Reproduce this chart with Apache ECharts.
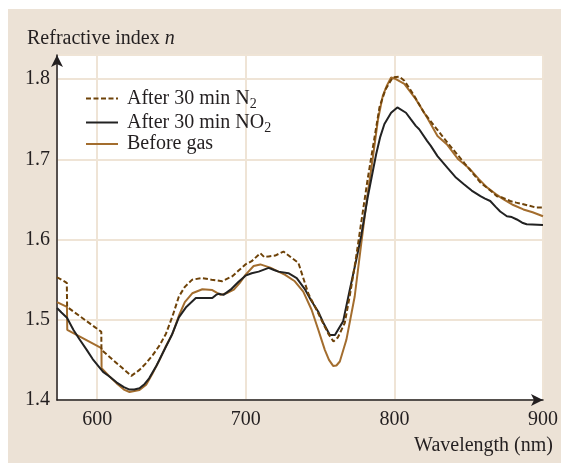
<!DOCTYPE html>
<html>
<head>
<meta charset="utf-8">
<script src="https://cdn.jsdelivr.net/npm/echarts@6/dist/echarts.min.js"></script>
<style>
html,body{margin:0;padding:0;background:#fff;}
#c{width:561px;height:463px;}
</style>
</head>
<body>
<div id="c"></div>
<script>
// Wavelength (nm) and refractive index values for each curve
const n2Wl = [573, 579.6, 579.8, 602.8, 602.9, 623, 628.5, 633, 637.4, 642, 646.4, 651, 655, 659, 664, 670.8, 677, 684, 690.8, 695, 699.8, 704, 709.8, 712.5, 715.4, 719.8, 725.4, 731, 735.4, 742, 748.8, 755.4, 759, 762, 766.6, 770, 774, 778, 782, 786, 790, 794, 798.9, 803.3, 806.7, 813.4, 820, 826.7, 835.6, 846.8, 857.9, 864, 869, 873, 877.9, 882, 886.8, 891, 895, 900];
const n2N  = [1.553, 1.546, 1.516, 1.485, 1.4625, 1.430, 1.4375, 1.446, 1.456, 1.468, 1.483, 1.506, 1.529, 1.541, 1.550, 1.552, 1.550, 1.548, 1.554, 1.561, 1.569, 1.573, 1.583, 1.578, 1.579, 1.580, 1.585, 1.577, 1.571, 1.533, 1.508, 1.483, 1.473, 1.478, 1.496, 1.530, 1.575, 1.625, 1.675, 1.720, 1.765, 1.787, 1.802, 1.803, 1.798, 1.779, 1.758, 1.742, 1.721, 1.696, 1.671, 1.662, 1.654, 1.652, 1.648, 1.646, 1.644, 1.642, 1.640, 1.640];

const no2Wl = [573, 576, 579.7, 584, 588, 593, 597, 601.8, 604, 608.5, 613, 618, 621.8, 625, 628.5, 632, 635, 640, 644, 650, 655, 660, 666.4, 672, 677.5, 680, 682, 685, 689.8, 695, 699.8, 704, 708.7, 715.4, 719, 722, 728.7, 734.3, 740, 744, 748.8, 752, 755.4, 756.6, 760, 765.5, 770, 774.4, 777.7, 782, 787.7, 790.5, 793.3, 797.8, 802, 807.8, 811, 814.4, 816.7, 822, 824.4, 829, 835.6, 841, 846.8, 852, 857.9, 861, 864.5, 868, 871.2, 875.7, 879, 882.4, 886, 889, 900];
const no2N  = [1.5146, 1.509, 1.5025, 1.4875, 1.476, 1.4625, 1.451, 1.440, 1.435, 1.429, 1.422, 1.416, 1.413, 1.413, 1.4146, 1.420, 1.427, 1.443, 1.458, 1.480, 1.503, 1.516, 1.527, 1.527, 1.527, 1.531, 1.5325, 1.531, 1.5375, 1.547, 1.555, 1.558, 1.560, 1.5646, 1.562, 1.560, 1.558, 1.552, 1.5375, 1.524, 1.510, 1.497, 1.485, 1.481, 1.481, 1.498, 1.5375, 1.575, 1.605, 1.652, 1.706, 1.728, 1.744, 1.758, 1.7646, 1.758, 1.750, 1.7417, 1.7375, 1.723, 1.717, 1.704, 1.6896, 1.678, 1.669, 1.661, 1.654, 1.651, 1.648, 1.641, 1.635, 1.629, 1.628, 1.625, 1.621, 1.619, 1.618];

const baseWl = [573, 579.7, 579.9, 602.9, 603.0, 608, 613, 618, 621.8, 628.5, 633, 637, 642, 646, 650.8, 655, 659, 664, 670.8, 677.5, 683, 687, 692, 696, 699.8, 705.3, 709.8, 716.5, 721, 726.5, 733, 738.7, 744.3, 748.8, 751, 753.2, 756, 758.8, 761, 763.3, 767.7, 773.3, 777.7, 781.5, 785.5, 789, 792.2, 795, 797.8, 801, 806.7, 814.4, 822, 829, 835.6, 843, 851, 857, 862.3, 868, 873.5, 880, 886.8, 893, 900];
const baseN  = [1.522, 1.516, 1.4875, 1.4646, 1.4396, 1.430, 1.421, 1.413, 1.410, 1.4125, 1.419, 1.432, 1.450, 1.466, 1.483, 1.505, 1.522, 1.533, 1.538, 1.537, 1.531, 1.533, 1.5375, 1.546, 1.556, 1.567, 1.569, 1.565, 1.561, 1.556, 1.548, 1.535, 1.5125, 1.4875, 1.475, 1.4625, 1.450, 1.4425, 1.443, 1.448, 1.475, 1.529, 1.595, 1.650, 1.702, 1.750, 1.779, 1.792, 1.802, 1.800, 1.794, 1.775, 1.752, 1.729, 1.718, 1.700, 1.6875, 1.675, 1.665, 1.657, 1.650, 1.643, 1.6375, 1.634, 1.629];

const xTicks = [600, 700, 800, 900];
const yTicks = [1.4, 1.5, 1.6, 1.7, 1.8];

const pair = (xs, ys) => xs.map((x, i) => [x, ys[i]]);
const FONT = '"Liberation Serif", "DejaVu Serif", serif';
const TXT = '#231f20';
const BEIGE = '#ece2d6';
const GRID = '#efe4d6';

const chart = echarts.init(document.getElementById('c'), null, {renderer: 'canvas'});
chart.setOption({
  animation: false,
  backgroundColor: '#ffffff',
  textStyle: {fontFamily: FONT},
  graphic: [{
    type: 'rect', z: -100, silent: true,
    shape: {x: 8, y: 9, width: 553, height: 454},
    style: {fill: BEIGE}
  }],
  title: {
    text: '{a|Refractive index }{i|n}',
    left: 22, top: 24,
    textStyle: {
      fontWeight: 'normal',
      rich: {
        a: {fontFamily: FONT, fontSize: 20, color: TXT, fontWeight: 'normal'},
        i: {fontFamily: FONT, fontSize: 20, color: TXT, fontStyle: 'italic', fontWeight: 'normal'}
      }
    }
  },
  grid: {left: 57, top: 55, right: 15, bottom: 63, show: true, backgroundColor: '#ffffff', borderWidth: 0},
  legend: {
    orient: 'vertical', left: 85, top: 86, padding: 0,
    itemWidth: 32, itemHeight: 14, itemGap: -1,
    data: ['N2', 'NO2', 'base'],
    itemStyle: {color: 'rgba(0,0,0,0)', borderWidth: 0, opacity: 0},
    formatter: function (name) {
      if (name === 'N2') return '{t|After 30 min N}{s|2}';
      if (name === 'NO2') return '{t|After 30 min NO}{s|2}';
      return '{t|Before gas}';
    },
    textStyle: {
      padding: [0, 0, 0, 4],
      rich: {
        t: {fontFamily: FONT, fontSize: 20, color: TXT, lineHeight: 21},
        s: {fontFamily: FONT, fontSize: 14, color: TXT, padding: [11, 0, 0, 0], lineHeight: 21}
      }
    }
  },
  xAxis: {
    type: 'value', min: 573, max: 900, minInterval: 100, maxInterval: 100,
    name: 'Wavelength (nm)', nameLocation: 'end', nameGap: 10,
    nameTextStyle: {fontFamily: FONT, fontSize: 20, color: TXT, align: 'right', verticalAlign: 'top', padding: [36, 0, 0, 0]},
    axisLine: {show: true, lineStyle: {color: '#231f20', width: 1.5}, symbol: ['none', 'arrow'], symbolSize: [9, 12], symbolOffset: [0, 0]},
    axisTick: {show: false},
    axisLabel: {
      fontFamily: FONT, fontSize: 20, color: TXT, margin: 10,
      formatter: v => (xTicks.indexOf(Math.round(v)) >= 0 && Math.abs(v - Math.round(v)) < 1e-6) ? String(Math.round(v)) : ''
    },
    splitLine: {show: true, lineStyle: {color: GRID, width: 2}}
  },
  yAxis: {
    type: 'value', min: 1.4, max: 1.83, minInterval: 0.1, maxInterval: 0.1,
    axisLine: {show: true, lineStyle: {color: '#231f20', width: 1.5}, symbol: ['none', 'arrow'], symbolSize: [9, 12], symbolOffset: [0, 0]},
    axisTick: {show: false},
    axisLabel: {
      fontFamily: FONT, fontSize: 20, color: TXT, margin: 7,
      formatter: v => {
        const k = yTicks.find(t => Math.abs(t - v) < 1e-6);
        return k !== undefined ? k.toFixed(1) : '';
      }
    },
    splitLine: {show: true, lineStyle: {color: GRID, width: 2}}
  },
  series: [
    {
      name: 'base', type: 'line', symbol: 'none', showSymbol: false, z: 3,
      data: pair(baseWl, baseN),
      lineStyle: {color: '#a36d2e', width: 2},
      itemStyle: {color: '#a36d2e'}
    },
    {
      name: 'NO2', type: 'line', symbol: 'none', showSymbol: false, z: 4,
      data: pair(no2Wl, no2N),
      lineStyle: {color: '#222222', width: 2},
      itemStyle: {color: '#222222'}
    },
    {
      name: 'N2', type: 'line', symbol: 'none', showSymbol: false, z: 5,
      data: pair(n2Wl, n2N),
      lineStyle: {color: '#6e4208', width: 2, type: [5, 2.5]},
      itemStyle: {color: '#6e4208'}
    }
  ]
});
</script>
</body>
</html>
